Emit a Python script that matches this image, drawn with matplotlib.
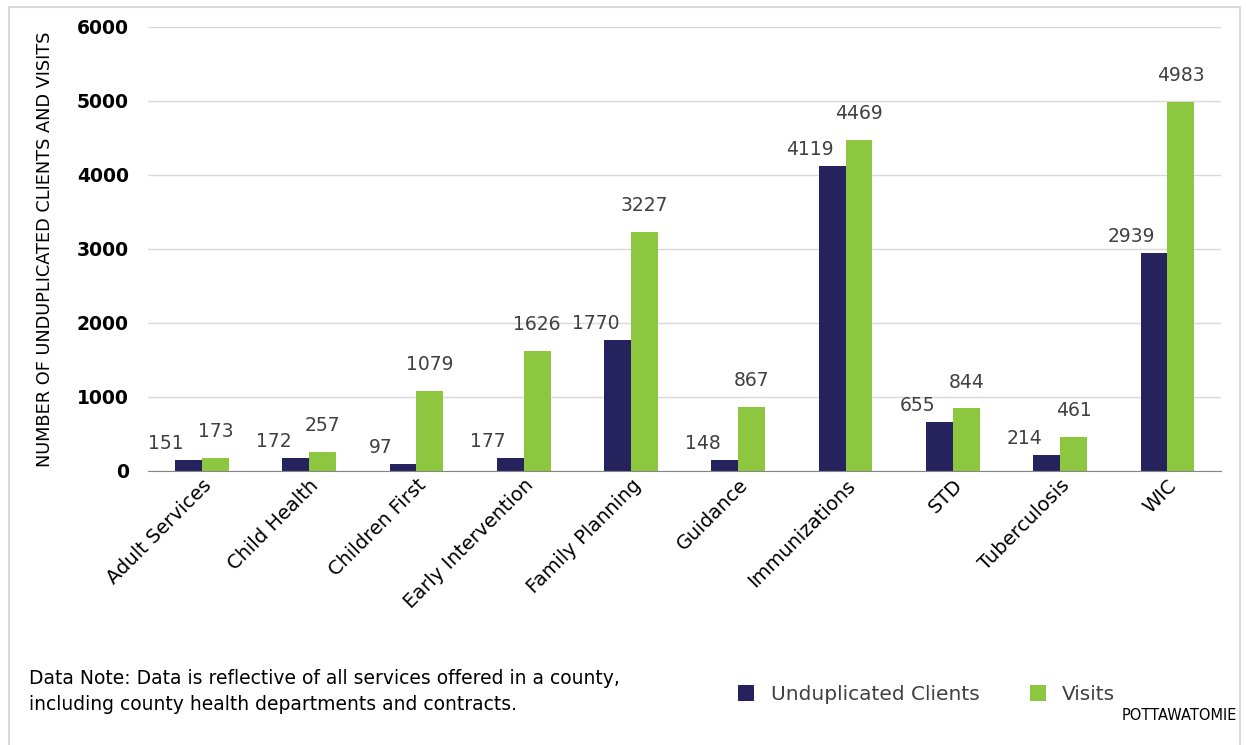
import matplotlib.pyplot as plt
import numpy as np
from matplotlib.patches import Rectangle

services = ['Adult Services', 'Child Health', 'Children First', 'Early Intervention',
            'Family Planning', 'Guidance', 'Immunizations', 'STD', 'Tuberculosis', 'WIC']
clients = [151, 172, 97, 177, 1770, 148, 4119, 655, 214, 2939]
visits = [173, 257, 1079, 1626, 3227, 867, 4469, 844, 461, 4983]

navy = '#26225e'
green = '#8dc63f'
txt = '#404040'

fig = plt.figure(figsize=(12.46, 7.45), dpi=100)
ax = fig.add_axes([0.119, 0.368, 0.861, 0.596])

x = np.arange(len(services))
w = 0.25
b1 = ax.bar(x - w / 2, clients, w, color=navy, label='Unduplicated Clients')
b2 = ax.bar(x + w / 2, visits, w, color=green, label='Visits')

# value labels: clients shifted left, visits centred higher up
for xi, v in zip(x, clients):
    ax.annotate(str(v), (xi - w / 2, v), xytext=(-16, 5), textcoords='offset points',
                ha='center', va='bottom', fontsize=13.5, color=txt)
for xi, v in zip(x, visits):
    ax.annotate(str(v), (xi + w / 2, v), xytext=(0, 12), textcoords='offset points',
                ha='center', va='bottom', fontsize=13.5, color=txt)

ax.set_xlim(-0.5, len(services) - 0.5)
ax.set_ylim(0, 6000)
ax.set_yticks(range(0, 6001, 1000))
ax.yaxis.grid(True, color='#d9d9d9', linewidth=1)
ax.set_axisbelow(True)
for s in ['top', 'right', 'left']:
    ax.spines[s].set_visible(False)
ax.spines['bottom'].set_color('#868686')
ax.tick_params(axis='both', length=0)
ax.tick_params(axis='y', pad=14)
for lab in ax.get_yticklabels():
    lab.set_fontweight('bold')
    lab.set_fontsize(13.5)
ax.set_xticks(x)
ax.set_xticklabels(services, rotation=45, ha='right', rotation_mode='anchor',
                   fontsize=14, color='black')
ax.set_ylabel('NUMBER OF UNDUPLICATED CLIENTS AND VISITS', fontsize=12.8, labelpad=16)

fig.legend(handles=[b1, b2], loc='center left', bbox_to_anchor=(0.578, 0.068),
           ncol=2, frameon=False, fontsize=14.5, handlelength=0.8, handleheight=0.8,
           columnspacing=2.5, labelcolor=txt)

fig.text(0.023, 0.072, 'Data Note: Data is reflective of all services offered in a county,\n'
         'including county health departments and contracts.',
         fontsize=13.5, va='center', linespacing=1.5)
fig.text(0.993, 0.04, 'POTTAWATOMIE', fontsize=10.5, ha='right', va='center')

fig.patches.append(Rectangle((0.007, -0.01), 0.988, 1.0, transform=fig.transFigure,
                             fill=False, edgecolor='#d9d9d9', linewidth=1.5))

fig.savefig('out.png', dpi=100)
